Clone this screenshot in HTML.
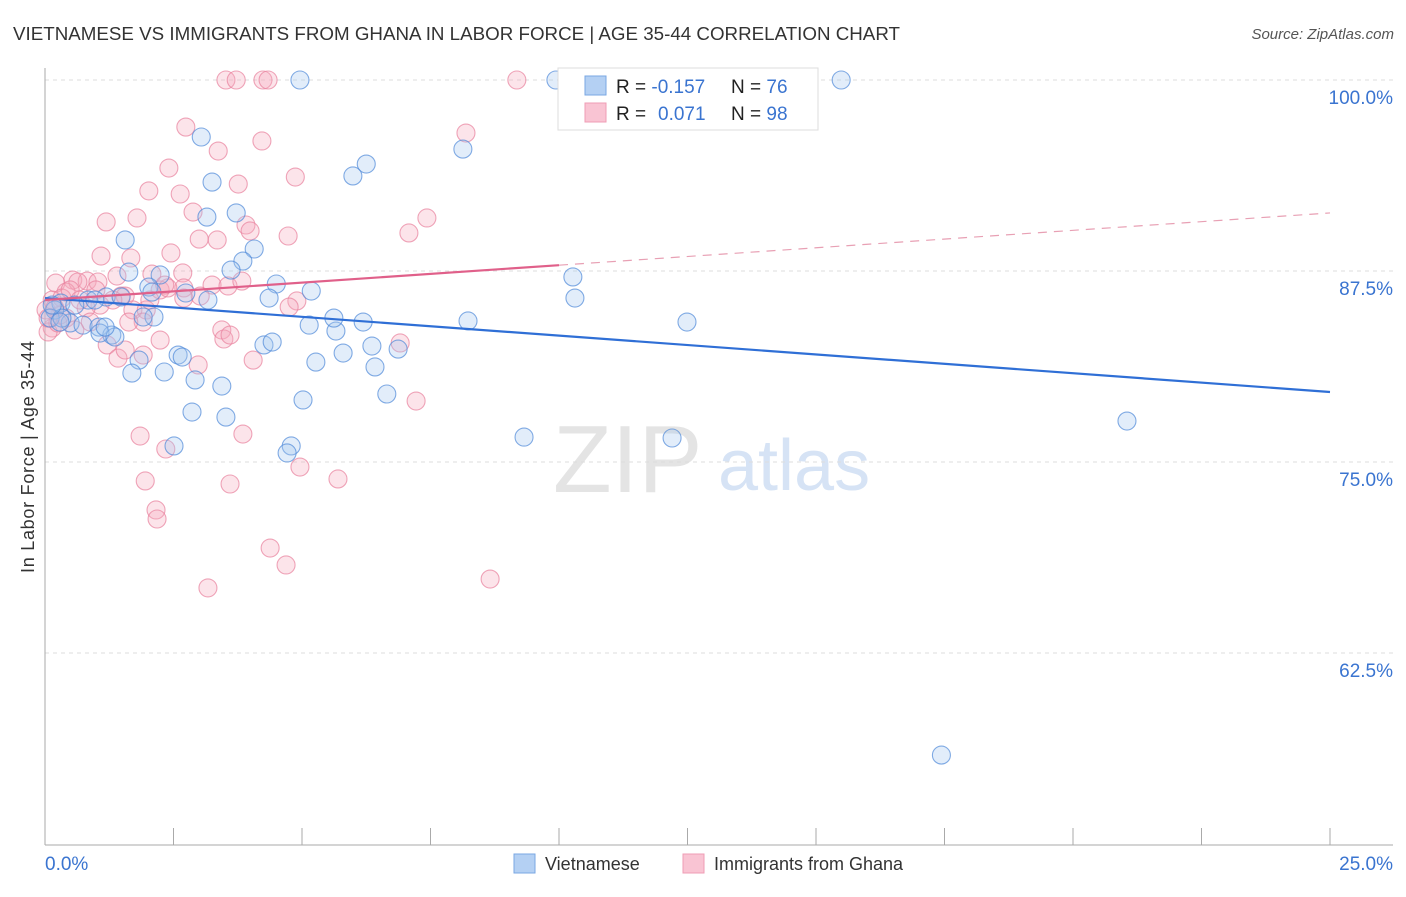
<!DOCTYPE html>
<html><head><meta charset="utf-8"><style>
body{margin:0;background:#fff;font-family:"Liberation Sans",sans-serif}
svg text{font-family:"Liberation Sans",sans-serif}
</style></head><body>
<svg id="chart" width="1406" height="892" viewBox="0 0 1406 892">
<text x="13" y="40" font-size="18" fill="#333" textLength="887" lengthAdjust="spacingAndGlyphs">VIETNAMESE VS IMMIGRANTS FROM GHANA IN LABOR FORCE | AGE 35-44 CORRELATION CHART</text>
<text x="1394" y="39" font-size="15" fill="#555" font-style="italic" text-anchor="end">Source: ZipAtlas.com</text>
<g>
<text x="553" y="492" font-size="96" fill="#e4e4e4" font-family="Liberation Serif">ZIP</text>
<text x="718" y="490" font-size="72" fill="#d6e3f5">atlas</text>
</g>
<g id="grid"></g>
<g id="axes"></g>
<g id="pts"></g>
<g id="trends"></g>
<text transform="translate(34,457) rotate(-90)" font-size="18" fill="#333" text-anchor="middle" textLength="232">In Labor Force | Age 35-44</text>
<g>
<rect x="558" y="68" width="260" height="62" fill="#fff" stroke="#ddd"/>
<rect x="585" y="76" width="21" height="19" fill="#b4d0f3" stroke="#7aa7e3"/>
<rect x="585" y="103" width="21" height="19" fill="#f9c4d3" stroke="#ef9db4"/>
<text x="616" y="93" font-size="19" fill="#222">R = <tspan fill="#3a74d0">-0.157</tspan></text>
<text x="731" y="93" font-size="19" fill="#222">N = <tspan fill="#3a74d0">76</tspan></text>
<text x="616" y="120" font-size="19" fill="#222">R = <tspan fill="#3a74d0" x="658">0.071</tspan></text>
<text x="731" y="120" font-size="19" fill="#222">N = <tspan fill="#3a74d0">98</tspan></text>
</g>
<g>
<rect x="514" y="854" width="21" height="19" fill="#b4d0f3" stroke="#7aa7e3"/>
<text x="545" y="870" font-size="18" fill="#333">Vietnamese</text>
<rect x="683" y="854" width="21" height="19" fill="#f9c4d3" stroke="#ef9db4"/>
<text x="714" y="870" font-size="18" fill="#333">Immigrants from Ghana</text>
</g>
</svg>
<script>
const yTicks=[100,87.5,75,62.5];
const yTickLabels=["100.0%","87.5%","75.0%","62.5%"];
const xTickLabels=["0.0%","25.0%"];
const blueX=[4.96,9.94,15.49,3.04,8.13,6.25,5.99,3.25,3.72,3.15,1.56,4.07,3.85,3.62,1.63,2.24,10.27,4.5,2.02,5.18,2.74,10.31,4.36,3.17,2.08,1.19,0.84,0.31,0.19,0.1,0.49,0.74,1.05,1.3,1.07,1.36,2.12,1.91,5.14,5.66,5.62,6.19,8.23,12.49,4.26,4.42,6.36,6.87,5.27,2.59,2.67,1.83,2.32,1.69,5.8,6.42,2.92,3.44,6.65,5.02,2.86,3.52,9.32,12.2,21.05,4.79,4.71,2.51,17.44,0.33,0.58,0.29,0.14,0.97,1.48,1.17];
const blueY=[100,100,100,96.27,95.48,94.5,93.72,93.32,91.3,91.03,89.53,88.94,88.15,87.56,87.43,87.24,87.11,86.65,86.45,86.19,86.06,85.73,85.73,85.6,86.12,85.8,85.6,85.4,84.95,84.42,84.1,83.96,83.83,83.31,83.44,83.18,84.49,84.49,83.96,83.57,84.42,84.16,84.23,84.16,82.66,82.85,82.59,82.39,81.54,82.0,81.87,81.67,80.89,80.82,82.13,81.22,80.37,79.97,79.45,79.06,78.27,77.94,76.63,76.57,77.68,76.05,75.59,76.05,55.82,84.42,85.27,84.16,85.27,85.6,85.8,83.83];
const pinkX=[3.52,3.72,4.24,4.34,9.18,2.74,4.22,3.37,8.19,2.41,4.87,3.76,2.02,2.63,2.88,1.79,1.19,7.43,3.91,3.99,7.08,3.0,3.35,4.73,2.45,1.09,1.67,2.08,2.68,1.4,0.54,0.82,0.64,1.03,0.21,0.41,2.7,2.24,3.25,3.56,3.83,4.9,4.75,1.48,1.56,0.14,1.07,0.8,1.71,1.97,1.91,1.63,0.88,0.41,0.58,0.14,0.29,0.06,1.21,1.42,1.91,2.24,1.56,3.44,3.48,2.98,4.05,6.91,7.22,1.85,2.35,3.85,1.95,3.6,5.7,4.96,2.16,2.18,4.38,4.69,3.17,8.66,2.7,0.99,2.04,3.6,0.33,0.02,0.19,0.49,0.25,0.06,0.68,1.32,2.39,3.02,2.33];
const pinkY=[100,100,100,100,100,96.92,96.01,95.35,96.53,94.24,93.65,93.19,92.74,92.54,91.36,90.97,90.71,90.97,90.51,90.12,89.99,89.59,89.53,89.79,88.68,88.48,88.35,87.3,87.37,87.17,86.91,86.84,86.78,86.78,86.71,86.12,86.39,86.26,86.58,86.52,86.84,85.54,85.14,85.86,85.86,85.6,85.27,85.08,84.95,84.95,84.16,84.16,84.16,84.42,83.64,83.77,84.62,83.51,82.66,81.8,82.0,82.98,82.33,83.64,83.05,81.35,81.67,82.79,78.99,76.7,75.85,76.83,73.76,73.56,73.89,74.67,71.86,71.27,69.37,68.26,66.76,67.34,85.73,86.26,85.6,83.31,85.73,84.95,85.08,86.26,84.1,84.42,85.6,85.6,86.39,85.86,86.58];
const blueTrend=[85.73,-0.246];
const pinkTrend=[85.6,0.228];
const pinkSolidEnd=10;

const NS="http://www.w3.org/2000/svg";
const X0=45,X1=1330,YTOP=80,YSTEP=191;
function sx(v){return X0+(X1-X0)*v/25;}
function sy(v){return YTOP+(100-v)*YSTEP/12.5;}
function mk(p,tag,at){const e=document.createElementNS(NS,tag);for(const k in at)e.setAttribute(k,at[k]);p.appendChild(e);return e;}
const grid=document.getElementById('grid'),axes=document.getElementById('axes'),pts=document.getElementById('pts'),tr=document.getElementById('trends');
yTicks.forEach((t,i)=>{
 const l=mk(grid,'line',{x1:X0,x2:1393,y1:sy(t),y2:sy(t),stroke:'#ddd','stroke-dasharray':'4,4'});
 
 
 const tx=mk(axes,'text',{x:1393,y:sy(t)+24,'font-size':19,fill:'#3a74d0','text-anchor':'end'});
 tx.textContent=yTickLabels[i];
 
 
});
const ax=mk(axes,'line',{x1:X0,x2:X0,y1:68,y2:845,stroke:'#aaa'});


const bx=mk(axes,'line',{x1:X0,x2:1393,y1:845,y2:845,stroke:'#aaa'});


for(let i=1;i<=10;i++){
 const t=mk(axes,'line',{x1:sx(i*2.5),x2:sx(i*2.5),y1:828,y2:845,stroke:'#aaa'});
 
 
}
const xl0=mk(axes,'text',{x:X0,y:870,'font-size':19,fill:'#3a74d0'});xl0.textContent=xTickLabels[0];


const xl1=mk(axes,'text',{x:1393,y:870,'font-size':19,fill:'#3a74d0','text-anchor':'end'});xl1.textContent=xTickLabels[1];


function series(xs,ys,fill,stroke,name){
 xs.forEach((x,i)=>{
  const c=mk(pts,'circle',{cx:sx(x),cy:sy(ys[i]),r:9,fill:fill,'fill-opacity':0.32,stroke:stroke,'stroke-opacity':0.7,'stroke-width':1.1});
  
  
 });
}
series(pinkX,pinkY,'#f5aabf','#e8809d','point-ghana');
series(blueX,blueY,'#a6c6f0','#4f89d8','point-vietnamese');
const bl=mk(tr,'line',{x1:sx(0),y1:sy(blueTrend[0]),x2:sx(25),y2:sy(blueTrend[0]+blueTrend[1]*25),stroke:'#2f6fd6','stroke-width':2.2});


const pl=mk(tr,'line',{x1:sx(0),y1:sy(pinkTrend[0]),x2:sx(pinkSolidEnd),y2:sy(pinkTrend[0]+pinkTrend[1]*pinkSolidEnd),stroke:'#e0608a','stroke-width':2.2});


const pd=mk(tr,'line',{x1:sx(pinkSolidEnd),y1:sy(pinkTrend[0]+pinkTrend[1]*pinkSolidEnd),x2:sx(25),y2:sy(pinkTrend[0]+pinkTrend[1]*25),stroke:'#e8a0b4','stroke-width':1.2,'stroke-dasharray':'9,7'});


</script>
</body></html>
